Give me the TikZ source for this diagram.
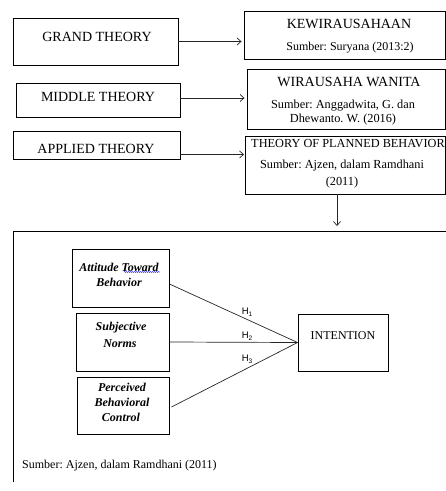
\documentclass[tikz,border=0pt]{standalone}
\usepackage{fontspec}
\setmainfont{Liberation Serif}
\newfontfamily\labfont{Liberation Sans}
\frenchspacing
\usetikzlibrary{calc,arrows.meta,decorations.pathmorphing}
\tikzset{
  box/.style={draw=black, line width=0.9pt, inner sep=0pt},
  conn/.style={draw=black!85, line width=0.7pt},
  arr/.style={conn, -{Straight Barb[length=4pt,width=7pt]}},
  txt/.style={inner sep=0pt, align=center, text=black},
}
\newcommand{\fsA}{\fontsize{14}{16}\selectfont}
\newcommand{\fsB}{\fontsize{12.3}{14}\selectfont}
\newcommand{\fsC}{\fontsize{12}{15}\selectfont}
\newcommand{\hlab}[1]{\labfont\fontsize{9.5}{11}\selectfont H\raisebox{-0.35ex}{\fontsize{6.5}{7}\selectfont #1}}
\begin{document}
\begin{tikzpicture}[x=1pt,y=-1pt]
\useasboundingbox (0,0) rectangle (446,491);
% top boxes
\node[box, minimum width=165pt, minimum height=47pt] (grand) at (95.5,41.5) {};
\node[box, minimum width=201pt, minimum height=48pt] (kew) at (344.5,35) {};
\node[box, minimum width=164pt, minimum height=34pt] (middle) at (98,100) {};
\node[box, minimum width=198pt, minimum height=60pt] (wira) at (346,99) {};
\node[box, minimum width=167pt, minimum height=28pt] (applied) at (96.5,145) {};
\node[box, minimum width=200pt, minimum height=58pt] (tpb) at (345.5,165) {};
% texts
\node[txt] (t1) at (97,37) {\fsA GRAND THEORY};
\node[txt] (t2) at (349,24) {\fsA KEWIRAUSAHAAN};
\node[txt] (t3) at (350,48) {\fsC Sumber: Suryana (2013:2)};
\node[txt] (t4) at (98,97) {\fsA MIDDLE THEORY};
\node[txt] (t5) at (349,82) {\fsA WIRAUSAHA WANITA};
\node[txt] (t6) at (343,106) {\fsB Sumber: Anggadwita, G. dan};
\node[txt] (t7) at (343,120) {\fsB Dhewanto. W. (2016)};
\node[txt] (t8) at (96,149) {\fsA APPLIED THEORY};
\node[txt] (t9) at (348,144) {\fsB THEORY OF PLANNED BEHAVIOR};
\node[txt] (t10) at (342,166) {\fsB Sumber: Ajzen, dalam Ramdhani};
\node[txt] (t11) at (342,183) {\fsB (2011)};
% arrows
\draw[arr] (grand.east) -- ([xshift=-2pt]grand.east -| kew.west);
\draw[arr] ($(middle.east)+(0,-2)$) -- ($(middle.east -| wira.west)+(-2,-2)$);
\draw[arr] ($(applied.south east)+(0,-5)$) -- ($(applied.south east -| tpb.west)+(-1,-5)$);
% big frame
\coordinate (bigtop) at (337,231);
\coordinate (bigleftbot) at (13,482);
\coordinate (bigtl) at (13,231);
\coordinate (bigtr) at (446,231);
\draw[box] (bigleftbot) -- (bigtl) -- (bigtr);
\draw[arr] (tpb.south -| bigtop) -- ($(bigtop)+(0,-5)$);
% inner boxes
\node[box, minimum width=97pt, minimum height=58pt] (att) at (120.5,278) {};
\node[box, minimum width=93pt, minimum height=58pt] (subj) at (122.5,342) {};
\node[box, minimum width=92pt, minimum height=57pt] (perc) at (123,405.5) {};
\node[box, minimum width=90pt, minimum height=57pt] (intent) at (343,342.5) {};
\node[txt] (a1) at (119,267) {\fsC\bfseries\itshape Attitude Toward};
\node[txt] (a2) at (119,282) {\fsC\bfseries\itshape Behavior};
\draw[blue!70, line width=0.5pt, decorate, decoration={snake, amplitude=0.6pt, segment length=2pt}] (124,272) -- (160,272);
\node[txt] (s1) at (121,328) {\fsC\bfseries\itshape Subjective};
\node[txt] (s2) at (120,344) {\fsC\bfseries\itshape Norms};
\node[txt] (p1) at (122,387) {\fsC\bfseries\itshape Perceived};
\node[txt] (p2) at (122,402) {\fsC\bfseries\itshape Behavioral};
\node[txt] (p3) at (121,417) {\fsC\bfseries\itshape Control};
\node[txt] (it) at (343,336) {\fsC INTENTION};
% connectors
\draw[conn] ($(att.east)+(0,6)$) -- (intent.west);
\draw[conn] (subj.east) -- (intent.west);
\draw[conn] ($(perc.east)+(2,1.5)$) -- (intent.west);
\node[txt] (h1) at (247,312) {\hlab{1}};
\node[txt] (h2) at (247,336) {\hlab{2}};
\node[txt] (h3) at (247,359) {\hlab{3}};
\node[txt, anchor=west] (src) at (22,466) {\fsC Sumber: Ajzen, dalam Ramdhani (2011)};
\end{tikzpicture}
\end{document}
